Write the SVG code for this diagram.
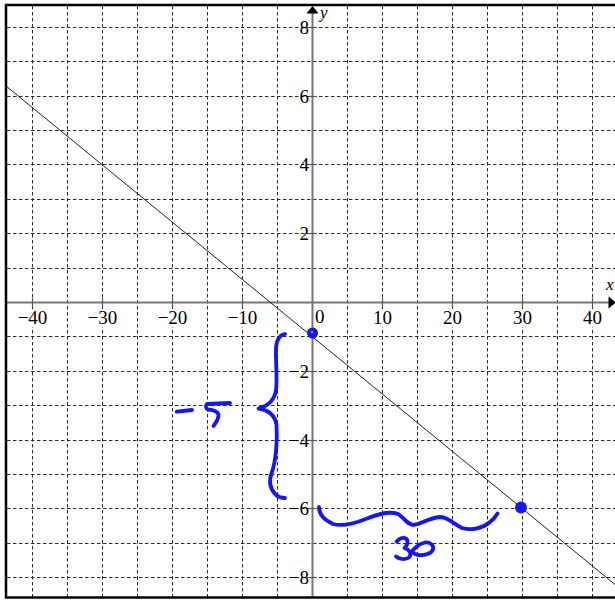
<svg xmlns="http://www.w3.org/2000/svg" width="615" height="600" viewBox="0 0 615 600">
<style>
.grid line{stroke:#2a2a2a;stroke-width:1;stroke-dasharray:3.5 2.5}
.axis{stroke:#777;stroke-width:2;fill:none}
.tick{stroke:#555;stroke-width:1.2}
.num{font-family:"Liberation Serif","Times New Roman",serif;font-size:19px;fill:#000}
.xl{text-anchor:middle}
.yl{text-anchor:end}
.var{font-family:"Liberation Serif","Times New Roman",serif;font-size:17px;font-style:italic;fill:#000}
.ink{fill:none;stroke:#1414ff;stroke-width:3.8;stroke-linecap:round;stroke-linejoin:round}
.dot{fill:#1414ff}
</style>
<rect x="0" y="0" width="615" height="600" fill="#fff"/>
<g id="grid" class="grid">
<line x1="32.5" y1="6" x2="32.5" y2="597"/>
<line x1="67.5" y1="6" x2="67.5" y2="597"/>
<line x1="102.5" y1="6" x2="102.5" y2="597"/>
<line x1="137.5" y1="6" x2="137.5" y2="597"/>
<line x1="172.5" y1="6" x2="172.5" y2="597"/>
<line x1="207.5" y1="6" x2="207.5" y2="597"/>
<line x1="242.5" y1="6" x2="242.5" y2="597"/>
<line x1="277.5" y1="6" x2="277.5" y2="597"/>
<line x1="347.5" y1="6" x2="347.5" y2="597"/>
<line x1="382.5" y1="6" x2="382.5" y2="597"/>
<line x1="417.5" y1="6" x2="417.5" y2="597"/>
<line x1="452.5" y1="6" x2="452.5" y2="597"/>
<line x1="487.5" y1="6" x2="487.5" y2="597"/>
<line x1="522.5" y1="6" x2="522.5" y2="597"/>
<line x1="557.5" y1="6" x2="557.5" y2="597"/>
<line x1="592.5" y1="6" x2="592.5" y2="597"/>
<line x1="7" y1="27.5" x2="615" y2="27.5"/>
<line x1="7" y1="61.5" x2="615" y2="61.5"/>
<line x1="7" y1="96.5" x2="615" y2="96.5"/>
<line x1="7" y1="130.5" x2="615" y2="130.5"/>
<line x1="7" y1="164.5" x2="615" y2="164.5"/>
<line x1="7" y1="199.5" x2="615" y2="199.5"/>
<line x1="7" y1="233.5" x2="615" y2="233.5"/>
<line x1="7" y1="268.5" x2="615" y2="268.5"/>
<line x1="7" y1="336.5" x2="615" y2="336.5"/>
<line x1="7" y1="371.5" x2="615" y2="371.5"/>
<line x1="7" y1="405.5" x2="615" y2="405.5"/>
<line x1="7" y1="440.5" x2="615" y2="440.5"/>
<line x1="7" y1="474.5" x2="615" y2="474.5"/>
<line x1="7" y1="508.5" x2="615" y2="508.5"/>
<line x1="7" y1="543.5" x2="615" y2="543.5"/>
<line x1="7" y1="577.5" x2="615" y2="577.5"/>
</g>
<g id="axes">
<line class="axis" x1="6" y1="302.5" x2="610" y2="302.5"/>
<line class="axis" x1="312.5" y1="12" x2="312.5" y2="598"/>
<polygon points="312.5,6 306.5,13.5 318.5,13.5" fill="#000"/>
<polygon points="616,302.5 608.5,296.5 608.5,308.5" fill="#000"/>
<g class="tick">
<line x1="32.5" y1="298" x2="32.5" y2="307"/>
<line x1="102.5" y1="298" x2="102.5" y2="307"/>
<line x1="172.5" y1="298" x2="172.5" y2="307"/>
<line x1="242.5" y1="298" x2="242.5" y2="307"/>
<line x1="382.5" y1="298" x2="382.5" y2="307"/>
<line x1="452.5" y1="298" x2="452.5" y2="307"/>
<line x1="522.5" y1="298" x2="522.5" y2="307"/>
<line x1="592.5" y1="298" x2="592.5" y2="307"/>
<line x1="308" y1="27.5" x2="317" y2="27.5"/>
<line x1="308" y1="96.5" x2="317" y2="96.5"/>
<line x1="308" y1="164.5" x2="317" y2="164.5"/>
<line x1="308" y1="233.5" x2="317" y2="233.5"/>
<line x1="308" y1="371.5" x2="317" y2="371.5"/>
<line x1="308" y1="440.5" x2="317" y2="440.5"/>
<line x1="308" y1="508.5" x2="317" y2="508.5"/>
<line x1="308" y1="577.5" x2="317" y2="577.5"/>
</g>
<text class="var" x="320" y="18">y</text>
<text class="var" x="606" y="290">x</text>
</g>
<g id="labels">
<rect x="15" y="309" width="35" height="18" fill="#fff"/>
<rect x="85" y="309" width="35" height="18" fill="#fff"/>
<rect x="155" y="309" width="35" height="18" fill="#fff"/>
<rect x="225" y="309" width="35" height="18" fill="#fff"/>
<rect x="372" y="309" width="22" height="18" fill="#fff"/>
<rect x="442" y="309" width="22" height="18" fill="#fff"/>
<rect x="512" y="309" width="22" height="18" fill="#fff"/>
<rect x="582" y="309" width="22" height="18" fill="#fff"/>
<text class="num xl" x="32.5" y="324">−40</text>
<text class="num xl" x="102.5" y="324">−30</text>
<text class="num xl" x="172.5" y="324">−20</text>
<text class="num xl" x="242.5" y="324">−10</text>
<text class="num" x="315" y="323">0</text>
<text class="num xl" x="382.5" y="324">10</text>
<text class="num xl" x="452.5" y="324">20</text>
<text class="num xl" x="522.5" y="324">30</text>
<text class="num xl" x="592.5" y="324">40</text>
<text class="num yl" x="309" y="34">8</text>
<text class="num yl" x="309" y="103">6</text>
<text class="num yl" x="309" y="171">4</text>
<text class="num yl" x="309" y="240">2</text>
<text class="num yl" x="309" y="378">−2</text>
<text class="num yl" x="309" y="447">−4</text>
<text class="num yl" x="309" y="515">−6</text>
<text class="num yl" x="309" y="584">−8</text>
</g>
<g id="line">
<line x1="6" y1="86" x2="615" y2="584.5" stroke="#222" stroke-width="1"/>
</g>
<g id="ink">
<circle class="dot" cx="312.5" cy="333" r="5.5"/>
<circle cx="312" cy="332" r="1.2" fill="#9a9aff"/>
<circle class="dot" cx="521" cy="507.5" r="6"/>
<path class="ink" d="M285,334 C279,335 276.5,340 276,348 C275.5,360 277.5,380 276,390 C274.5,400 268,406 258.5,408.5 C268,410 275,415 276.5,425 C277.5,440 276,460 272,472 C268,482 271,490 276,495 C279,497.5 282,498 285,498"/>
<path class="ink" d="M176.7,411.7 L192,410"/>
<path class="ink" d="M230,403 L207,404 C205,406 206,408.5 208,409.5 C214,410 219,412 218.5,416 C218,420 215.5,423 213.5,426"/>
<path class="ink" d="M319,507 C319,513 322,519 333,524 C344,527 356,523 367,518.5 C378,514 390,511 398,514 C404,517 405,523 413,525 C420,525 428,518 440,517 C448,517 452,523 462,528 C472,531 483,528 490,522 C494,519 496,516 497.5,513.5"/>
<path class="ink" d="M396.7,541.7 C399,538.5 403,537 406,538.5 C409,541 407,546 404.5,548 C409,549.5 412,553 409.5,557 C406.5,560 400,560 396,556.5 M410.5,553.5 C413,549 419,543.5 425,542.5 C430,542 434,545 433,549.5 C431,554 424,555.5 418.5,555 C415,554.5 413,553 412,551.5"/>
</g>
<g id="frame">
<polyline points="616,5 6,5 6,597.5 616,597.5" fill="none" stroke="#000" stroke-width="2.5"/>
</g>
</svg>
